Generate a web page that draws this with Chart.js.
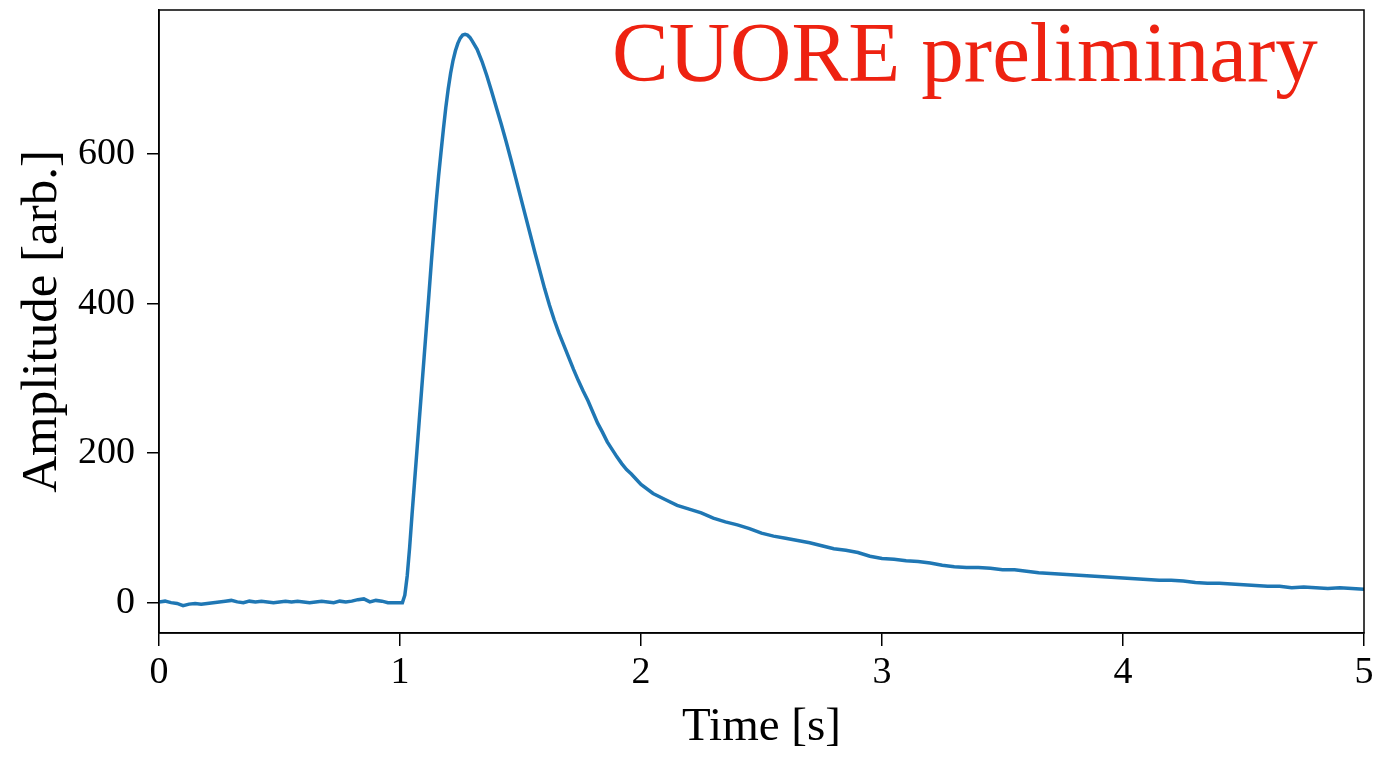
<!DOCTYPE html>
<html>
<head>
<meta charset="utf-8">
<script src="https://cdn.jsdelivr.net/npm/chart.js@4/dist/chart.umd.min.js"></script>
<style>
  html, body { margin: 0; padding: 0; background: #fff; }
  #wrap { width: 1382px; height: 767px; }
</style>
</head>
<body>
<div id="wrap"><canvas id="pulse"></canvas></div>
<script>
// pulse: time [s] and amplitude [arb.]
const baseTimes = [0.000, 0.025, 0.050, 0.075, 0.100, 0.125, 0.150, 0.175, 0.200, 0.225, 0.250, 0.275, 0.300, 0.325, 0.350, 0.375, 0.400, 0.425, 0.450, 0.475, 0.500, 0.525, 0.550, 0.575, 0.600, 0.625, 0.650, 0.675, 0.700, 0.725, 0.750, 0.775, 0.800, 0.825, 0.850, 0.875, 0.900, 0.925, 0.950, 0.975, 1.000];
const baseAmp = [1, 2, 0, -1, -4, -2, -1, -2, -1, 0, 1, 2, 3, 1, 0, 2, 1, 2, 1, 0, 1, 2, 1, 2, 1, 0, 1, 2, 1, 0, 2, 1, 2, 4, 5, 1, 3, 2, 0, 0, 0];

const riseTimes = [1.01, 1.02, 1.03, 1.04, 1.05, 1.06, 1.07, 1.08, 1.09, 1.10, 1.11, 1.12, 1.13, 1.14, 1.15, 1.16, 1.17, 1.18, 1.19, 1.20, 1.21, 1.22, 1.23, 1.24, 1.25, 1.26, 1.27, 1.28, 1.29, 1.30];
const riseAmp = [0, 10, 36, 74, 118, 160, 202, 244, 286, 328, 370, 412, 455, 496, 535, 570, 602, 633, 662, 687, 708, 725, 738, 748, 755, 759, 760, 759, 756, 751];

const decayTimes = [1.32, 1.34, 1.36, 1.38, 1.40, 1.42, 1.44, 1.46, 1.48, 1.50, 1.52, 1.54, 1.56, 1.58, 1.60, 1.62, 1.64, 1.66, 1.68, 1.70, 1.72, 1.74, 1.76, 1.78, 1.80, 1.82, 1.84, 1.86, 1.88, 1.90, 1.92, 1.94, 1.96, 1.98, 2.00];
const decayAmp = [740, 724, 705, 684, 662, 640, 617, 593, 568, 543, 518, 493, 468, 444, 420, 398, 378, 360, 344, 328, 312, 297, 283, 270, 255, 240, 228, 215, 205, 195, 186, 178, 172, 165, 158];

const tailTimes = [2.05, 2.10, 2.15, 2.20, 2.25, 2.30, 2.35, 2.40, 2.45, 2.50, 2.55, 2.60, 2.65, 2.70, 2.75, 2.80, 2.85, 2.90, 2.95, 3.00, 3.05, 3.10, 3.15, 3.20, 3.25, 3.30, 3.35, 3.40, 3.45, 3.50, 3.55, 3.60, 3.65, 3.70, 3.75, 3.80, 3.85, 3.90, 3.95, 4.00, 4.05, 4.10, 4.15, 4.20, 4.25, 4.30, 4.35, 4.40, 4.45, 4.50, 4.55, 4.60, 4.65, 4.70, 4.75, 4.80, 4.85, 4.90, 4.95, 5.00];
const tailAmp = [146, 138, 130, 125, 120, 113, 108, 104, 99, 93, 89, 86, 83, 80, 76, 72, 70, 67, 62, 59, 58, 56, 55, 53, 50, 48, 47, 47, 46, 44, 44, 42, 40, 39, 38, 37, 36, 35, 34, 33, 32, 31, 30, 30, 29, 27, 26, 26, 25, 24, 23, 22, 22, 20, 21, 20, 19, 20, 19, 18];

const xTicks = [0, 1, 2, 3, 4, 5];
const yTicks = [0, 200, 400, 600];

const times = [...baseTimes, ...riseTimes, ...decayTimes, ...tailTimes];
const amplitude = [...baseAmp, ...riseAmp, ...decayAmp, ...tailAmp];
const points = times.map((t, i) => ({ x: t, y: amplitude[i] }));

const serif = '"Liberation Serif", "Times New Roman", serif';

// box around the plot plus the red label
const frameAndLabel = {
    id: 'frameAndLabel',
    afterDraw(chart) {
        const { ctx, chartArea } = chart;
        ctx.save();
        ctx.strokeStyle = '#000';
        ctx.lineWidth = 1.5;
        ctx.strokeRect(chartArea.left, chartArea.top, chartArea.right - chartArea.left, chartArea.bottom - chartArea.top);
        ctx.fillStyle = '#ee2211';
        ctx.font = '85px ' + serif;
        ctx.textBaseline = 'alphabetic';
        ctx.textAlign = 'left';
        ctx.fillText('CUORE preliminary', 612, 81);
        ctx.restore();
    }
};

new Chart(document.getElementById('pulse').getContext('2d'), {
    type: 'line',
    data: {
        datasets: [{
            data: points,
            borderColor: '#1f77b4',
            borderWidth: 3.5,
            pointRadius: 0,
            tension: 0,
            fill: false
        }]
    },
    options: {
        responsive: true,
        maintainAspectRatio: false,
        animation: false,
        layout: { padding: { top: 10, right: 18, left: 0, bottom: 0 } },
        plugins: { legend: { display: false }, tooltip: { enabled: false } },
        scales: {
            x: {
                type: 'linear',
                min: 0,
                max: 5,
                afterBuildTicks: s => { s.ticks = xTicks.map(v => ({ value: v })); },
                afterFit: s => { s.height = 134; s.paddingLeft = 0; s.paddingRight = 0; },
                grid: { drawOnChartArea: false, color: '#000', lineWidth: 1.5, tickLength: 13 },
                border: { color: '#000', width: 1.5 },
                ticks: { color: '#000', font: { family: serif, size: 38 }, padding: 4, maxRotation: 0 },
                title: { display: true, text: 'Time [s]', color: '#000', font: { family: serif, size: 47 }, padding: { top: 0, bottom: 11 } }
            },
            y: {
                min: -40.6,
                max: 792.6,
                afterBuildTicks: s => { s.ticks = yTicks.map(v => ({ value: v })); },
                afterFit: s => { s.width = 159; s.paddingTop = 0; s.paddingBottom = 0; },
                grid: { drawOnChartArea: false, color: '#000', lineWidth: 1.5, tickLength: 12 },
                border: { color: '#000', width: 1.5 },
                ticks: { color: '#000', font: { family: serif, size: 38 }, padding: 12 },
                title: { display: true, text: 'Amplitude [arb.]', color: '#000', font: { family: serif, size: 51 }, padding: { top: 12, bottom: 0 } }
            }
        }
    },
    plugins: [frameAndLabel]
});
</script>
</body>
</html>
